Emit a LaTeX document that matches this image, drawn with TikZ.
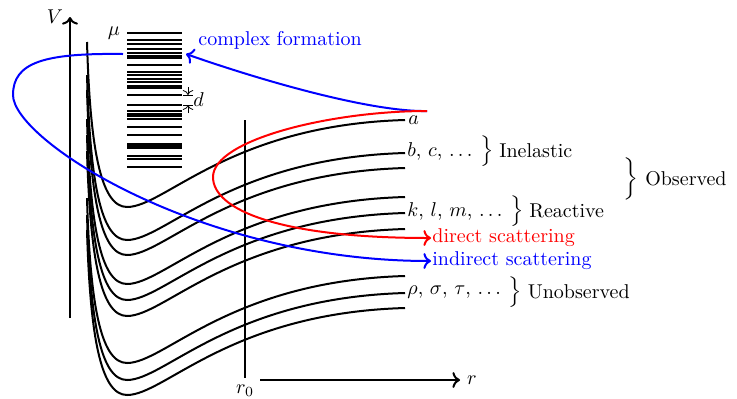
\documentclass[tikz,border=0pt]{standalone}
\usepackage{graphicx}
\usetikzlibrary{arrows.meta,positioning,calc}
\tikzset{
  pot/.style={line width=1pt},
  lvl/.style={line width=1pt},
  axis/.style={line width=1pt,->},
  direct/.style={red,line width=1pt,->},
  indirect/.style={blue,line width=1pt,->},
  chan/.style={right,inner sep=0.5pt},
  grpbr/.style={right=3pt of #1,inner sep=0pt},
}
\newcommand{\grp}{\scalebox{1}[0.85]{$\Big\}$}}
\begin{document}
\begin{tikzpicture}[x=0.5pt,y=-0.5pt]
  \useasboundingbox (0,0) rectangle (737,398);

  % axes
  \coordinate (vbot) at (70,318);
  \coordinate (vtop) at (70,17);
  \draw[axis] (vbot) -- (vtop);
  \node[left] (lab-V) at (vtop) {$V$};
  \coordinate (rbeg) at (260,380);
  \coordinate (rend) at (460,380);
  \draw[axis] (rbeg) -- (rend);
  \node[right] (lab-r) at (rend) {$r$};
  \coordinate (r0top) at (245,120);
  \coordinate (r0bot) at (245,378);
  \draw[line width=1pt] (r0top) -- (r0bot);
  \node[below] (lab-r0) at (r0bot) {$r_0$};

  % potential curves
  \foreach \s [count=\i] in {0,33,48,77,93,109,156,173,188} {
    \begin{scope}[shift={(0,\s)}]
      \draw[pot] (87,42) .. controls (90,145) and (100,207) .. (127,207)
        .. controls (165,207) and (230,125) .. (405,120);
      \coordinate (end\i) at (405,120);
    \end{scope}
  }

  % level ladder of the complex
  \foreach \y in {33,39.5,44,48.5,53,55.5,57.5,64.5,71.5,74.5,79,82,85.5,88,95,
                  105,111,113.5,116,118.5,127,135,143.5,146,148,156,158.5,167}
    \draw[lvl] (127,\y) -- (182,\y);
  \node[left] (lab-mu) at (127,33) {$\mu$};
  \draw[thin] (183,95) -- (193,95);
  \draw[thin] (183,105) -- (193,105);
  \draw[thin,->] (188,87) -- (188,95);
  \draw[thin,->] (188,113) -- (188,105);
  \node[right,inner sep=1pt] (lab-d) at (191,100) {$d$};

  % channel labels
  \node[chan] (lab-a) at ($(end1)+(2,0)$) {$a$};
  \node[chan] (lab-bc) at ($(end2)+(1,-2)$) {$b$, $c$, $\ldots$};
  \node[grpbr=lab-bc] (br-inel) {\grp};
  \node[chan,right=2pt of br-inel] (lab-inel) {Inelastic};
  \node[chan] (lab-klm) at ($(end5)+(1,-2)$) {$k$, $l$, $m$, $\ldots$};
  \node[grpbr=lab-klm] (br-react) {\grp};
  \node[chan,right=2pt of br-react] (lab-react) {Reactive};
  \node[chan] (lab-rst) at ($(end8)+(1,-1)$) {$\rho$, $\sigma$, $\tau$, $\ldots$};
  \node[grpbr=lab-rst] (br-unobs) {\grp};
  \node[chan,right=2pt of br-unobs] (lab-unobs) {Unobserved};
  \node[inner sep=0pt] (br-obs) at (631,179) {\scalebox{1}[0.88]{$\bigg\}$}};
  \node[right=3pt of br-obs,inner sep=0pt] (lab-obs) {Observed};

  % scattering paths
  \coordinate (entr) at (427,111);
  \coordinate (cx-in) at (186,54);
  \coordinate (cx-out) at (123,54);
  \coordinate (turn-i) at (13,95);
  \coordinate (turn-d) at (213,177);
  \node[chan,blue] (lab-cf) at (197,40) {complex formation};
  \node[chan,red] (lab-dir) at (431,238) {direct scattering};
  \node[chan,blue] (lab-ind) at (431,261) {indirect scattering};
  \draw[indirect] (entr) .. controls (370,112) and (260,80) .. (cx-in);
  \draw[indirect] (cx-out) .. controls (45,53) and (13,62) .. (turn-i)
    .. controls (13,140) and (200,261) .. (lab-ind.west);
  \draw[direct] (entr) .. controls (330,111) and (213,140) .. (turn-d)
    .. controls (213,210) and (280,238) .. (lab-dir.west);
\end{tikzpicture}
\end{document}
